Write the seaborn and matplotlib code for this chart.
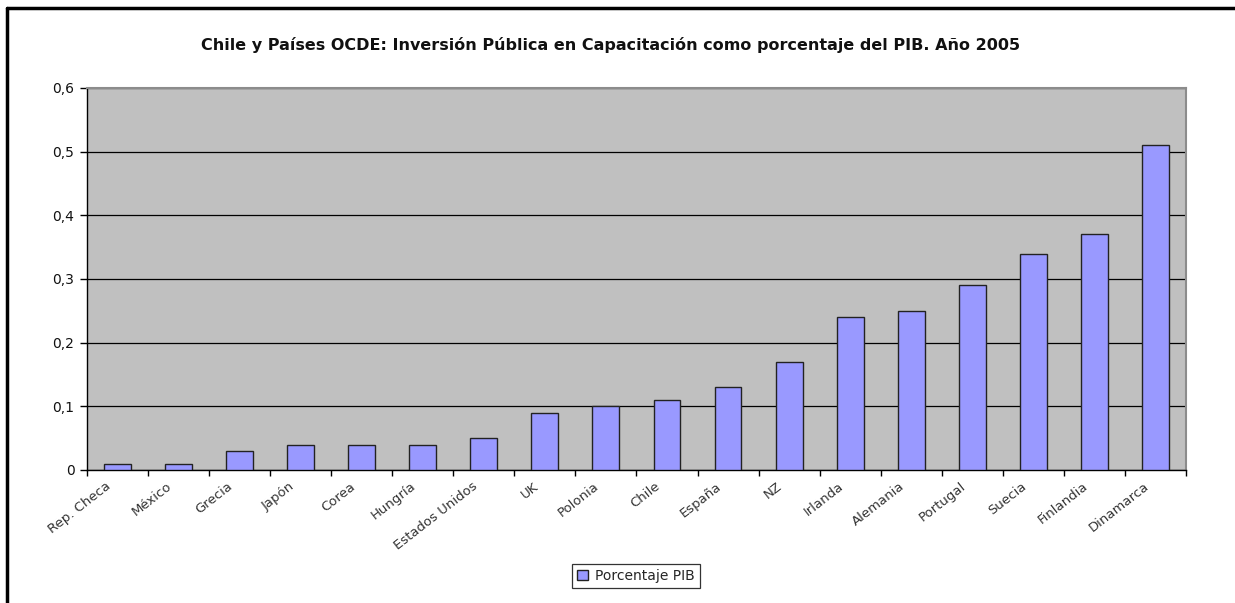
import matplotlib
matplotlib.use("Agg")
import matplotlib.pyplot as plt
import matplotlib.lines as mlines
import seaborn as sns
import pandas as pd
import numpy as np

paises = ["Rep. Checa", "México", "Grecia", "Japón", "Corea", "Hungría",
          "Estados Unidos", "UK", "Polonia", "Chile", "España", "NZ",
          "Irlanda", "Alemania", "Portugal", "Suecia", "Finlandia", "Dinamarca"]
porcentaje_pib = [0.01, 0.01, 0.03, 0.04, 0.04, 0.04, 0.05, 0.09, 0.10, 0.11,
                  0.13, 0.17, 0.24, 0.25, 0.29, 0.34, 0.37, 0.51]
y_ticks = [0, 0.1, 0.2, 0.3, 0.4, 0.5, 0.6]
y_tick_labels = ["0", "0,1", "0,2", "0,3", "0,4", "0,5", "0,6"]
titulo = "Chile y Países OCDE: Inversión Pública en Capacitación como porcentaje del PIB. Año 2005"
serie = "Porcentaje PIB"

df = pd.DataFrame({"pais": paises, "valor": porcentaje_pib})

sns.set_theme(style="white")
plt.rcParams["font.family"] = ["DejaVu Sans"]

fig = plt.figure(figsize=(12.35, 6.03), dpi=100)
ax = fig.add_axes([0.0704, 0.2206, 0.8899, 0.6335])
ax.set_facecolor("#C0C0C0")

sns.barplot(data=df, x="pais", y="valor", color="#9999FF", saturation=1,
            edgecolor="#222222", linewidth=1.0, width=0.44, ax=ax, zorder=3)

ax.set_ylim(0, 0.6)
ax.set_xlim(-0.5, len(paises) - 0.5)
ax.set_yticks(y_ticks)
ax.set_yticklabels(y_tick_labels, fontsize=10, color="#111111")
ax.yaxis.grid(True, color="#000000", linewidth=0.9, zorder=1)
ax.set_axisbelow(True)
ax.set_xlabel("")
ax.set_ylabel("")

# slanted category labels ending just left of each bar centre;
# the visible tick marks sit between categories
ax.set_xticks(np.arange(len(paises)) - 0.2)
ax.set_xticklabels(paises, rotation=38, ha="right", rotation_mode="anchor",
                   fontsize=9.5, color="#333333")
ax.tick_params(axis="x", which="major", length=0, pad=7)
ax.set_xticks(np.arange(len(paises) + 1) - 0.5, minor=True)
ax.tick_params(axis="x", which="minor", length=4, width=1, color="#000000",
               direction="out", bottom=True)
ax.tick_params(axis="y", length=5, width=1, color="#000000", direction="out",
               left=True, pad=4)

for side in ("left", "bottom"):
    ax.spines[side].set_color("#000000")
    ax.spines[side].set_linewidth(1.0)
for side in ("top", "right"):
    ax.spines[side].set_color("#8C8C8C")
    ax.spines[side].set_linewidth(1.5)

fig.text(0.494, 0.925, titulo, ha="center", va="center", fontsize=11.5,
         fontweight="bold", color="#111111")

handle = plt.Rectangle((0, 0), 1, 1, facecolor="#9999FF", edgecolor="#222222",
                       linewidth=1)
leg = fig.legend([handle], [serie], loc="center", bbox_to_anchor=(0.515, 0.045),
                 fontsize=10, frameon=True, fancybox=False, handlelength=0.8,
                 handleheight=0.8, handletextpad=0.5, borderpad=0.35)
leg.get_frame().set_edgecolor("#000000")
leg.get_frame().set_linewidth(0.9)

# outer frame along the top and left edges
fig.add_artist(mlines.Line2D([0.0057, 1.0], [0.986, 0.986], color="black",
                             linewidth=2.5, transform=fig.transFigure))
fig.add_artist(mlines.Line2D([0.0057, 0.0057], [0.0, 0.986], color="black",
                             linewidth=2.5, transform=fig.transFigure))

fig.savefig("out.png", dpi=100, facecolor="white")
